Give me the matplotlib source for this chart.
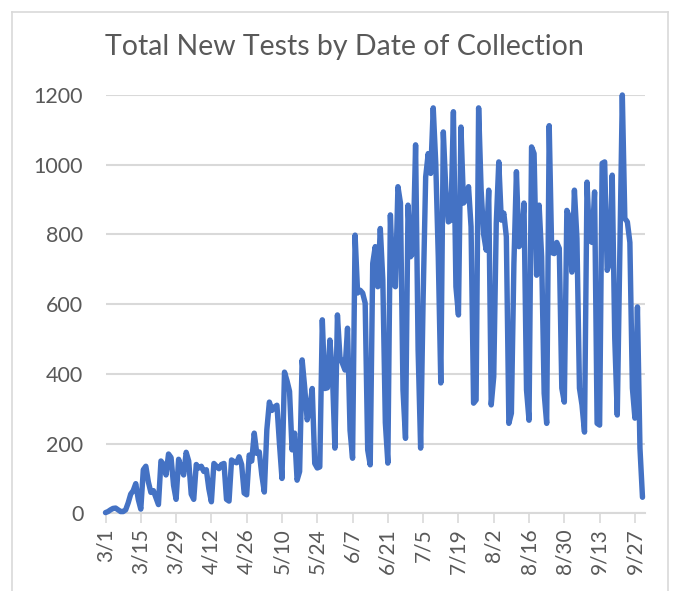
import matplotlib
matplotlib.use("Agg")
import matplotlib.pyplot as plt
import numpy as np
import pandas as pd

title = "Total New Tests by Date of Collection"
start_date = "2020-03-01"
tick_labels = ["3/1", "3/15", "3/29", "4/12", "4/26", "5/10", "5/24", "6/7",
               "6/21", "7/5", "7/19", "8/2", "8/16", "8/30", "9/13", "9/27"]
y_ticks = [0, 200, 400, 600, 800, 1000, 1200]

# daily values, week by week (Sun..Sat), starting 3/1
wk00 = [2, 5, 10, 14, 15, 10, 5]
wk01 = [5, 10, 30, 55, 65, 85, 40]
wk02 = [12, 125, 135, 90, 60, 65, 45]
wk03 = [25, 150, 140, 110, 170, 160, 80]
wk04 = [40, 155, 130, 110, 175, 150, 55]
wk05 = [40, 140, 130, 135, 120, 125, 70]
wk06 = [33, 143, 135, 128, 140, 143, 40]
wk07 = [35, 153, 148, 145, 162, 140, 58]
wk08 = [53, 167, 150, 230, 172, 176, 110]
wk09 = [61, 240, 319, 295, 305, 310, 200]
wk10 = [100, 405, 380, 350, 182, 230, 95]
wk11 = [120, 440, 362, 268, 300, 358, 143]
wk12 = [130, 133, 555, 358, 360, 497, 402]
wk13 = [187, 569, 448, 430, 411, 531, 238]
wk14 = [158, 798, 632, 640, 632, 603, 182]
wk15 = [139, 717, 765, 650, 817, 670, 260]
wk16 = [144, 856, 660, 650, 937, 890, 354]
wk17 = [215, 884, 736, 747, 1057, 469, 187]
wk18 = [620, 965, 1032, 975, 1163, 1004, 736]
wk19 = [374, 1094, 927, 836, 841, 1152, 650]
wk20 = [569, 1108, 890, 900, 937, 822, 316]
wk21 = [325, 1163, 927, 800, 755, 927, 311]
wk22 = [392, 832, 1008, 841, 861, 793, 258]
wk23 = [287, 717, 980, 765, 774, 890, 354]
wk24 = [267, 1051, 1032, 683, 884, 736, 344]
wk25 = [258, 1112, 748, 745, 777, 760, 359]
wk26 = [319, 869, 850, 692, 927, 788, 359]
wk27 = [311, 233, 950, 783, 777, 922, 258]
wk28 = [253, 1004, 1008, 697, 720, 970, 502]
wk29 = [282, 740, 1200, 846, 836, 777, 359]
wk30 = [273, 592, 187, 46]

weeks = [wk00, wk01, wk02, wk03, wk04, wk05, wk06, wk07, wk08, wk09, wk10,
         wk11, wk12, wk13, wk14, wk15, wk16, wk17, wk18, wk19, wk20, wk21,
         wk22, wk23, wk24, wk25, wk26, wk27, wk28, wk29, wk30]
values = [v for w in weeks for v in w]
dates = pd.date_range(start_date, periods=len(values), freq="D")
days = (dates - dates[0]).days.values

W, H = 681, 591
fig = plt.figure(figsize=(W / 100, H / 100), dpi=100)
font = ["Lato", "DejaVu Sans"]
txt_color = "#595959"
grid_color = "#D9D9D9"

# chart border (left, top, right)
for xs, ys in [([12 / W, 12 / W], [0, 1 - 12 / H]),
               ([12 / W, 668 / W], [1 - 12 / H, 1 - 12 / H]),
               ([668 / W, 668 / W], [1 - 12 / H, 0])]:
    fig.add_artist(plt.Line2D(xs, ys, color=grid_color, lw=1.2,
                              transform=fig.transFigure))

ax = fig.add_axes([105.5 / W, 77.7 / H, (645 - 105.5) / W, (513.3 - 95) / H])
ax.plot(days, values, color="#4472C4", lw=3.9, solid_joinstyle="round",
        solid_capstyle="round", clip_on=False, zorder=3)

ax.set_xlim(0, 214)
ax.set_ylim(0, 1200)
ax.set_yticks(y_ticks)
ax.set_yticklabels([str(v) for v in y_ticks], family=font, fontsize=15.5,
                   color=txt_color)
ax.tick_params(axis="y", length=0, pad=16)
ax.yaxis.grid(True, color=grid_color, lw=1.5)
ax.set_axisbelow(True)

tick_pos = [14 * i for i in range(len(tick_labels))]
ax.set_xticks(tick_pos)
ax.set_xticklabels(tick_labels, rotation=90, family=font, fontsize=15,
                   color=txt_color, ha="center", va="top")
ax.tick_params(axis="x", length=7, width=1.2, color=grid_color, pad=4,
               direction="out")

for s in ["left", "right", "top"]:
    ax.spines[s].set_visible(False)
ax.spines["bottom"].set_color(grid_color)
ax.spines["bottom"].set_linewidth(1.5)

fig.text(344 / W, 1 - 47 / H, title, family=font, fontsize=20.5,
         color=txt_color, ha="center", va="center")

fig.savefig("out.png", dpi=100)
